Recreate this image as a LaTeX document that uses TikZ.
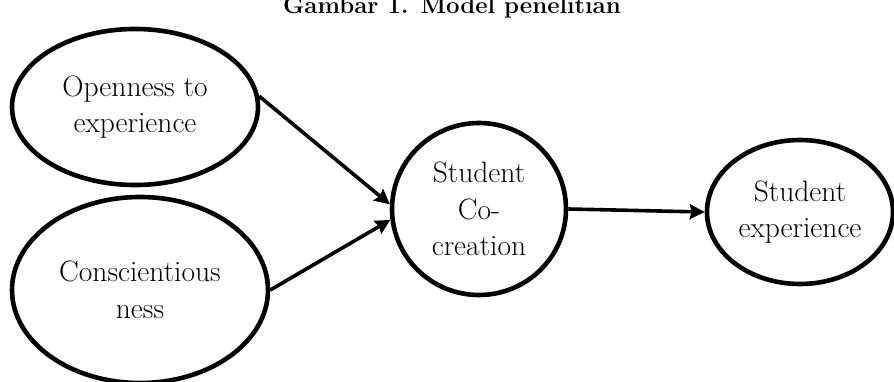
\documentclass[tikz,border=0pt]{standalone}
\usepackage{fontspec}
\usetikzlibrary{shapes.geometric,arrows.meta}
\begin{document}
\begin{tikzpicture}[
        x=1pt, y=1pt,
        construct/.style={
            draw,
            ellipse,
            line width=4.6pt,
            inner sep=0pt,
            align=center,
            font=\fontsize{29.5}{36.5}\selectfont},
        path/.style={
            line width=3.6pt,
            -{Stealth[length=15pt,width=15pt,inset=2pt]}}]
        \clip (0,0) rectangle (894,381);

        \node[font=\bfseries\fontsize{24}{28}\selectfont, anchor=base] (title) at (452,367) {Gambar 1. Model penelitian};

        \node[construct, minimum width=246, minimum height=156] (open) at (135,274) {Openness to\\experience};
        \node[construct, minimum width=256, minimum height=186] (consc) at (140,91) {Conscientious\\ness};
        \node[construct, minimum width=174, minimum height=172] (cocreate) at (479,172) {Student\\Co-\\creation};
        \node[construct, minimum width=186, minimum height=144] (exper) at (800,169) {Student\\experience};

        \draw[path] (open.5) -- (cocreate.177);
        \draw[path] (consc.east) -- (cocreate.187);
        \draw[path] (cocreate.east) -- (exper.west);
    \end{tikzpicture}
\end{document}
